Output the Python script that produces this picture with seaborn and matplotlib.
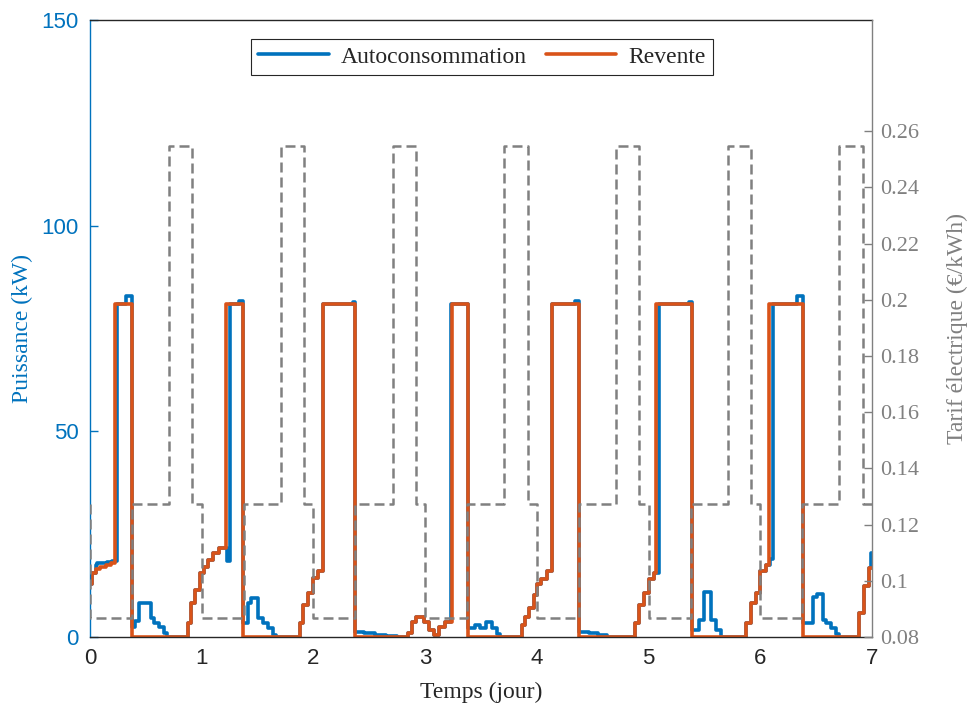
import numpy as np
import pandas as pd
import matplotlib
matplotlib.use("Agg")
import matplotlib.pyplot as plt
import seaborn as sns

# === Données ===
# temps en jours, puissance en kW
temps_revente = [0.000, 0.020, 0.050, 0.090, 0.140, 0.190, 0.222, 0.380,
                 0.873, 0.900, 0.940, 0.980, 1.020, 1.060, 1.100, 1.150, 1.218, 1.370,
                 1.876, 1.910, 1.950, 1.995, 2.040, 2.088, 2.372,
                 2.845, 2.880, 2.920, 2.990, 3.030, 3.075, 3.120, 3.175, 3.238, 3.387,
                 3.866, 3.896, 3.926, 3.970, 4.000, 4.040, 4.090, 4.135, 4.374,
                 4.880, 4.913, 4.958, 5.000, 5.047, 5.063, 5.392,
                 5.870, 5.916, 5.960, 6.000, 6.050, 6.080, 6.380,
                 6.886, 6.930, 6.975, 7.000]
puissance_revente = [13.0, 15.5, 16.5, 17.0, 17.5, 18.0, 81.0, 0.0,
                     3.4, 8.2, 11.4, 15.5, 17.0, 18.7, 20.4, 21.6, 81.0, 0.0,
                     3.4, 7.8, 10.7, 14.4, 16.0, 81.0, 0.0,
                     1.0, 3.7, 4.9, 3.7, 1.7, 0.5, 2.5, 3.7, 81.0, 0.0,
                     2.9, 4.9, 7.0, 10.2, 13.0, 14.2, 16.0, 81.0, 0.0,
                     3.4, 7.8, 10.7, 14.2, 15.5, 81.0, 0.0,
                     3.4, 8.2, 10.7, 16.0, 17.5, 81.0, 0.0,
                     5.8, 12.4, 16.8, 16.8]

temps_auto = [0.000, 0.020, 0.050, 0.065, 0.150, 0.200, 0.242, 0.320,
              0.380, 0.400, 0.440, 0.545, 0.575, 0.620, 0.660, 0.690,
              0.873, 0.900, 0.940, 0.980, 1.020, 1.060, 1.100, 1.150, 1.228, 1.253, 1.335,
              1.370, 1.410, 1.440, 1.500, 1.545, 1.590, 1.635, 1.665,
              1.876, 1.910, 1.950, 1.995, 2.040, 2.088, 2.350,
              2.372, 2.450, 2.550, 2.650, 2.750,
              2.845, 2.880, 2.920, 2.990, 3.030, 3.075, 3.120, 3.175, 3.230,
              3.387, 3.447, 3.490, 3.540, 3.600, 3.640, 3.670,
              3.866, 3.896, 3.926, 3.970, 4.000, 4.040, 4.090, 4.135, 4.340,
              4.374, 4.470, 4.550, 4.630,
              4.880, 4.913, 4.958, 5.000, 5.047, 5.093, 5.360,
              5.392, 5.450, 5.497, 5.557, 5.600, 5.645,
              5.870, 5.916, 5.960, 6.000, 6.050, 6.085, 6.110, 6.330,
              6.380, 6.470, 6.510, 6.560, 6.590, 6.630, 6.680, 6.700,
              6.886, 6.930, 6.975, 6.990, 7.000]
puissance_auto = [13.0, 15.5, 17.5, 18.0, 18.3, 18.5, 81.0, 83.0,
                  2.5, 4.0, 8.2, 4.5, 3.4, 2.4, 1.0, 0.0,
                  3.4, 8.2, 11.4, 15.5, 17.0, 18.7, 20.4, 21.6, 18.5, 81.0, 81.8,
                  3.5, 8.2, 9.4, 4.6, 3.4, 2.1, 0.6, 0.0,
                  3.4, 7.8, 10.7, 14.4, 16.0, 81.0, 81.5,
                  1.3, 0.9, 0.6, 0.3, 0.0,
                  1.0, 3.7, 4.9, 3.7, 1.7, 0.5, 2.5, 3.7, 81.0,
                  2.1, 2.9, 2.1, 3.7, 2.1, 0.8, 0.0,
                  2.9, 4.9, 7.0, 10.2, 13.0, 14.2, 16.0, 81.0, 81.6,
                  1.3, 1.0, 0.6, 0.0,
                  3.4, 7.8, 10.7, 14.2, 15.5, 81.0, 81.5,
                  1.7, 4.1, 11.0, 4.1, 1.7, 0.0,
                  3.4, 8.2, 10.7, 16.0, 17.5, 19.0, 81.0, 83.0,
                  3.4, 9.8, 10.5, 4.1, 3.4, 2.1, 0.8, 0.0,
                  5.8, 12.4, 16.8, 20.4, 20.4]

# tarif (€/kWh) : heures creuses / pleines / pointe
T_BAS, T_MOY, T_HAUT = 0.0868, 0.1273, 0.2547
temps_tarif = [0.000, 0.000, 0.375, 0.708, 0.917,
               1.000, 1.375, 1.708, 1.917,
               2.000, 2.375, 2.708, 2.917,
               3.000, 3.375, 3.708, 3.917,
               4.000, 4.375, 4.708, 4.917,
               5.000, 5.375, 5.708, 5.917,
               6.000, 6.375, 6.708, 6.917, 7.000]
valeur_tarif = [T_MOY, T_BAS, T_MOY, T_HAUT, T_MOY,
                T_BAS, T_MOY, T_HAUT, T_MOY,
                T_BAS, T_MOY, T_HAUT, T_MOY,
                T_BAS, T_MOY, T_HAUT, T_MOY,
                T_BAS, T_MOY, T_HAUT, T_MOY,
                T_BAS, T_MOY, T_HAUT, T_MOY,
                T_BAS, T_MOY, T_HAUT, T_MOY, T_MOY]

# === Couleurs ===
BLEU = "#0072BD"
ORANGE = "#D95319"
GRIS = "#808080"

sns.set_theme(style="white")
plt.rcParams['font.family'] = ['Liberation Serif', 'DejaVu Serif']

fig, ax = plt.subplots(figsize=(9.69, 7.08), dpi=100)
fig.subplots_adjust(left=0.0929, right=0.9, top=0.9718, bottom=0.1003)

df_auto = pd.DataFrame({"t": temps_auto, "p": puissance_auto})
df_rev = pd.DataFrame({"t": temps_revente, "p": puissance_revente})
df_tarif = pd.DataFrame({"t": temps_tarif, "v": valeur_tarif})

sns.lineplot(data=df_auto, x="t", y="p", ax=ax, color=BLEU, lw=2.6,
             drawstyle="steps-post", estimator=None, sort=False,
             label="Autoconsommation")
sns.lineplot(data=df_rev, x="t", y="p", ax=ax, color=ORANGE, lw=2.6,
             drawstyle="steps-post", estimator=None, sort=False,
             label="Revente")

ax.set_xlim(0, 7)
ax.set_ylim(0, 150)
ax.set_xticks(range(8))
ax.set_yticks([0, 50, 100, 150])
ax.set_xlabel("Temps (jour)", fontsize=17, labelpad=9)
ax.set_ylabel("Puissance (kW)", fontsize=17, color=BLEU, labelpad=6)

for lab in ax.get_xticklabels() + ax.get_yticklabels():
    lab.set_family(['Liberation Sans', 'DejaVu Sans'])
    lab.set_fontsize(16)
ax.tick_params(axis="x", direction="in", length=6, width=1, colors="#262626", pad=8)
ax.tick_params(axis="y", direction="in", length=6, width=1, colors=BLEU, pad=8)
ax.spines["left"].set_color(BLEU)
ax.spines["bottom"].set_color("#262626")
ax.spines["top"].set_color("#262626")
ax.spines["right"].set_visible(False)
for s in ["left", "bottom", "top"]:
    ax.spines[s].set_linewidth(1.0)

# === Axe de droite : tarif ===
ax2 = ax.twinx()
sns.lineplot(data=df_tarif, x="t", y="v", ax=ax2, color=GRIS, lw=1.8,
             linestyle=(0, (4, 2)), drawstyle="steps-post",
             estimator=None, sort=False, legend=False)
ax2.set_xlim(0, 7)
ax2.set_ylim(0.08, 0.2996)
ticks_tarif = [0.08, 0.10, 0.12, 0.14, 0.16, 0.18, 0.20, 0.22, 0.24, 0.26]
ax2.set_yticks(ticks_tarif)
ax2.set_yticklabels([f"{v:g}" for v in ticks_tarif], fontsize=16)
ax2.set_ylabel("Tarif électrique (€/kWh)", fontsize=17, color=GRIS, labelpad=20)
ax2.set_xlabel("")
ax2.tick_params(axis="y", direction="in", length=6, width=1, colors=GRIS, pad=6)
for s in ["left", "bottom", "top"]:
    ax2.spines[s].set_visible(False)
ax2.spines["right"].set_color(GRIS)
ax2.spines["right"].set_linewidth(1.0)

leg = ax.legend(loc="upper center", bbox_to_anchor=(0.501, 0.969), borderaxespad=0,
                ncol=2, fontsize=17, frameon=True, fancybox=False, framealpha=1,
                edgecolor="#262626", handlelength=3.0, handletextpad=0.5,
                columnspacing=0.8, borderpad=0.3)
leg.get_frame().set_linewidth(0.8)
leg.set_zorder(10)

plt.savefig("out.png", dpi=100)
plt.close()
